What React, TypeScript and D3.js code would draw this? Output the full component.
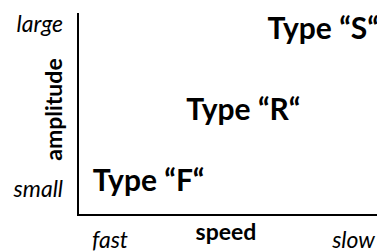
import * as d3 from 'd3'

// reading of the picture: three response types placed on a speed / amplitude plane
const types = ['Type “F“', 'Type “R“', 'Type “S“']
const typeSpeed = [0.236, 0.553, 0.82]
const typeAmplitude = [0.171, 0.522, 0.923]

const speedTicks = ['fast', 'slow']
const speedTickPos = [0.047, 0.993]
const amplitudeTicks = ['small', 'large']
const amplitudeTickPos = [0.089, 0.906]
const speedTitle = 'speed'
const amplitudeTitle = 'amplitude'

const FONT = 'Lato, "Open Sans", sans-serif'

export default function App() {
  const width = 377
  const height = 252
  const margin = { top: 13, right: 0, bottom: 37, left: 78 }

  const x = d3.scaleLinear().domain([0, 1]).range([margin.left, width - margin.right])
  const y = d3.scaleLinear().domain([0, 1]).range([height - margin.bottom, margin.top])

  const x0 = x(0)
  const y0 = y(0)

  return (
    <svg
      width={width}
      height={height}
      viewBox={`0 0 ${width} ${height}`}
      style={{ position: 'fixed', top: 0, left: 0, background: '#fff', fontFamily: FONT }}
    >
      <path
        d={`M${x0},${y(1)}V${y0}H${x(1)}`}
        fill="none"
        stroke="#000"
        strokeWidth="2"
      />

      {/* amplitude axis */}
      {amplitudeTicks.map((t, i) => (
        <text
          key={t}
          x={x0 - 15}
          y={y(amplitudeTickPos[i])}
          textAnchor="end"
          fontSize="23"
          fontStyle="italic"
          fill="#000"
        >
          {t}
        </text>
      ))}
      <text
        transform={`translate(${x0 - 16},${y(0.522)}) rotate(-90)`}
        textAnchor="middle"
        fontSize="23"
        fontWeight="bold"
        fill="#000"
      >
        {amplitudeTitle}
      </text>

      {/* speed axis */}
      {speedTicks.map((t, i) => (
        <text
          key={t}
          x={x(speedTickPos[i])}
          y={y0 + 33}
          textAnchor={i === 0 ? 'start' : 'end'}
          fontSize="23"
          fontStyle="italic"
          fill="#000"
        >
          {t}
        </text>
      ))}
      <text x={x(0.495)} y={y0 + 25} textAnchor="middle" fontSize="23" fontWeight="bold" fill="#000">
        {speedTitle}
      </text>

      {types.map((t, i) => (
        <text
          key={t}
          x={x(typeSpeed[i])}
          y={y(typeAmplitude[i])}
          dy="0.36em"
          textAnchor="middle"
          fontSize="30"
          fontWeight="bold"
          fill="#000"
        >
          {t}
        </text>
      ))}
    </svg>
  )
}
